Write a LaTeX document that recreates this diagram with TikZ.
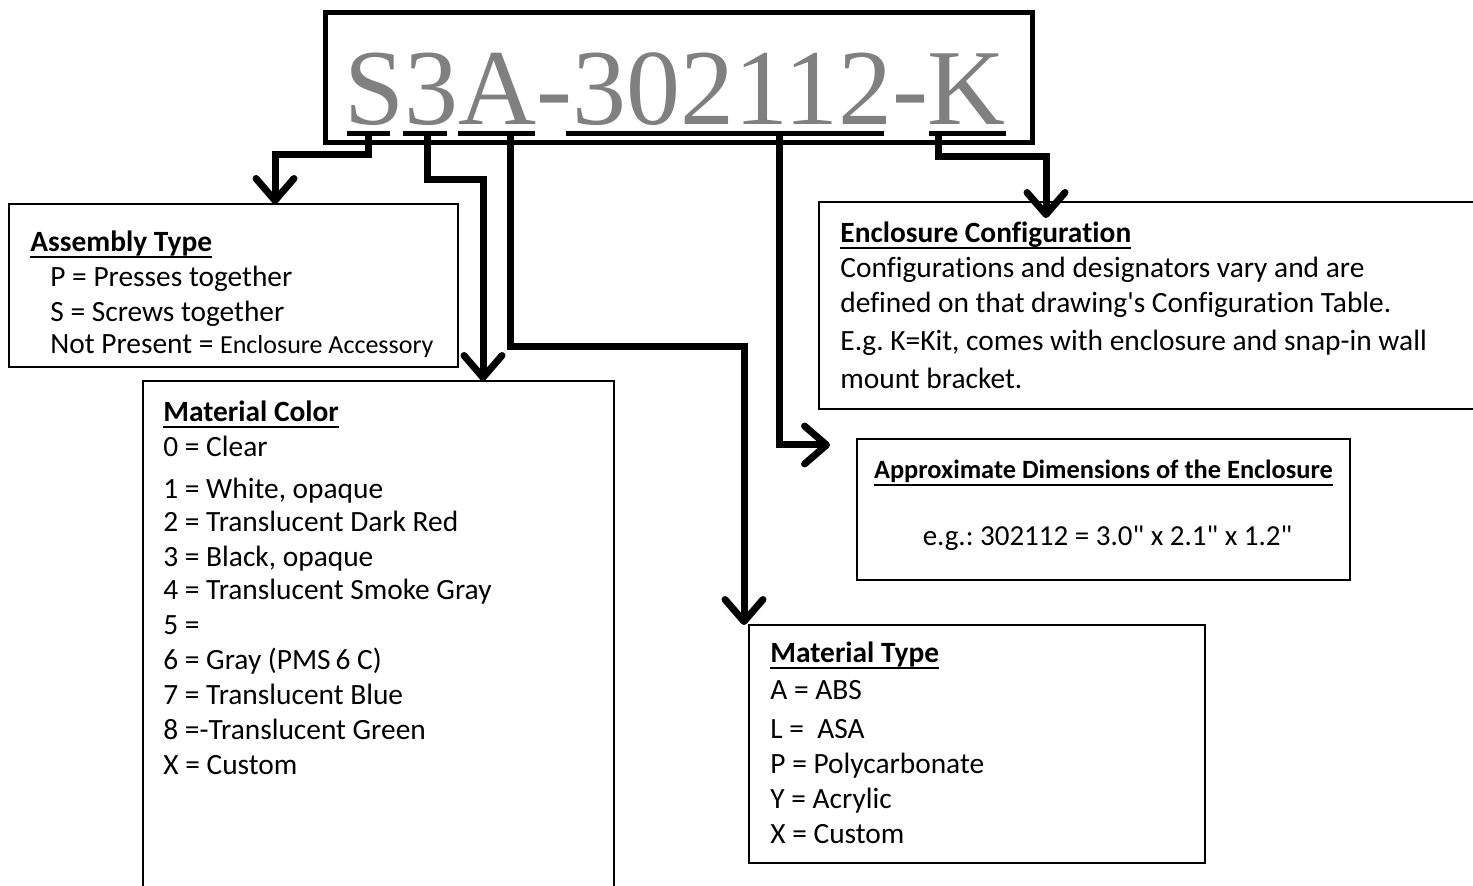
\documentclass[tikz,border=0pt]{standalone}
\usepackage{fontspec}
\setmainfont{Carlito}[Ligatures={TeX,NoCommon}]
\newfontfamily\pnfont{Liberation Serif}
\usepackage{xcolor}
\usetikzlibrary{arrows.meta,positioning}
\definecolor{pngray}{RGB}{128,128,128}
\newlength{\hdwd}
\newcommand{\hd}[1]{\settowidth{\hdwd}{\textbf{#1}}\textbf{\rlap{\rule[-3.5pt]{\hdwd}{1pt}}#1}}
\frenchspacing

\begin{document}
\begin{tikzpicture}[x=0.5pt, y=-0.5pt,
  box/.style={draw, line width=1pt, anchor=north west, inner sep=0pt, outer sep=0pt},
  bar/.style={fill=black, inner sep=0pt, outer sep=0pt, minimum height=2.5pt},
  conn/.style={line width=3.5pt, -{Straight Barb[length=11pt, width=19pt, round]}},
  txt/.style={anchor=north west, inner sep=0pt, align=left, font=\fontsize{14.7}{17.5}\selectfont}]
\useasboundingbox (0,0) rectangle (1473,886);
\clip (0,0) rectangle (1473,886);

\node[box, line width=2.5pt, minimum width=353.5pt, minimum height=65pt] (pn) at (325,13) {};
\node[anchor=base, inner sep=0pt, text=pngray, font=\pnfont\fontsize{54}{54}\selectfont] (pntxt) at (675,125) {S3A-302112-K};

\node[bar, minimum width=21.5pt] (uS) at (368.5,134) {};
\node[bar, minimum width=22pt] (u3) at (425,134) {};
\node[bar, minimum width=38.5pt] (uA) at (496.5,134) {};
\node[bar, minimum width=159pt] (uN) at (725,134) {};
\node[bar, minimum width=38.5pt] (uK) at (967.5,134) {};

\node[box, minimum width=224.5pt, minimum height=81.5pt] (asm) at (9,204) {};
\node[box, minimum width=235.5pt, minimum height=260pt] (mcol) at (143,381) {};
\node[box, minimum width=228pt, minimum height=119pt] (mtyp) at (749,625) {};
\node[box, minimum width=340.5pt, minimum height=103.5pt] (encf) at (819,202) {};
\node[box, minimum width=246.5pt, minimum height=70.5pt] (dims) at (857,439) {};

\node[txt] (asmtxt) at ([xshift=10.5pt, yshift=-13pt]asm.north west) {\hd{Assembly Type}\\
\hspace*{10pt}P = Presses together\\
\hspace*{10pt}S = Screws together\\[-1.5pt]
\hspace*{10pt}Not Present = {\fontsize{13}{15}\selectfont Enclosure Accessory}};

\node[txt] (mcoltxt) at ([xshift=10pt, yshift=-9.5pt]mcol.north west) {\hd{Material Color}\\
0 = Clear\\[3.5pt]
1 = White, opaque\\[-1pt]
2 = Translucent Dark Red\\
3 = Black, opaque\\[-1pt]
4 = Translucent Smoke Gray\\
5 =\\
6 = Gray (PMS\,6 C)\\
7 = Translucent Blue\\
8 =-Translucent Green\\
X = Custom};

\node[txt] (mtyptxt) at ([xshift=10.5pt, yshift=-8pt]mtyp.north west) {\hd{Material Type}\\[1pt]
A = ABS\\[2pt]
L =\ \ ASA\\
P = Polycarbonate\\
Y = Acrylic\\
X = Custom};

\node[txt] (encftxt) at ([xshift=10.5pt, yshift=-9.5pt]encf.north west) {\hd{Enclosure Configuration}\\
Configurations and designators vary and are\\
defined on that drawing\textquotesingle s Configuration Table.\\[1.5pt]
E.g. K=Kit, comes with enclosure and snap-in wall\\[1.5pt]
mount bracket.};

\node[anchor=base, inner sep=0pt, font=\fontsize{13.2}{15}\selectfont] (dimshd) at ([yshift=-20pt]dims.north) {\hd{Approximate Dimensions of the Enclosure}};
\node[anchor=base, inner sep=0pt, font=\fontsize{14.5}{17.5}\selectfont] (dimsval) at ([xshift=2pt, yshift=-53.5pt]dims.north) {e.g.: 302112 = 3.0\textquotedbl{} x 2.1\textquotedbl{} x 1.2\textquotedbl};

\draw[conn] (uS.center) -- ++(0,21) -| ([xshift=133pt]asm.north west);
\draw[conn] ([xshift=1pt]u3.center) -- ++(0,46) -| ([xshift=170pt]mcol.north west);
\draw[conn] ([xshift=6.75pt]uA.center) -- ++(0,213) -| ([xshift=-2.5pt]mtyp.north west);
\draw[conn] ([xshift=27pt]uN.center) |- ([xshift=-13.5pt, yshift=-3pt]dims.north west);
\draw[conn] ([xshift=-14.75pt]uK.center) -- ++(0,23) -| ([xshift=113.5pt, yshift=-8pt]encf.north west);
\end{tikzpicture}
\end{document}
